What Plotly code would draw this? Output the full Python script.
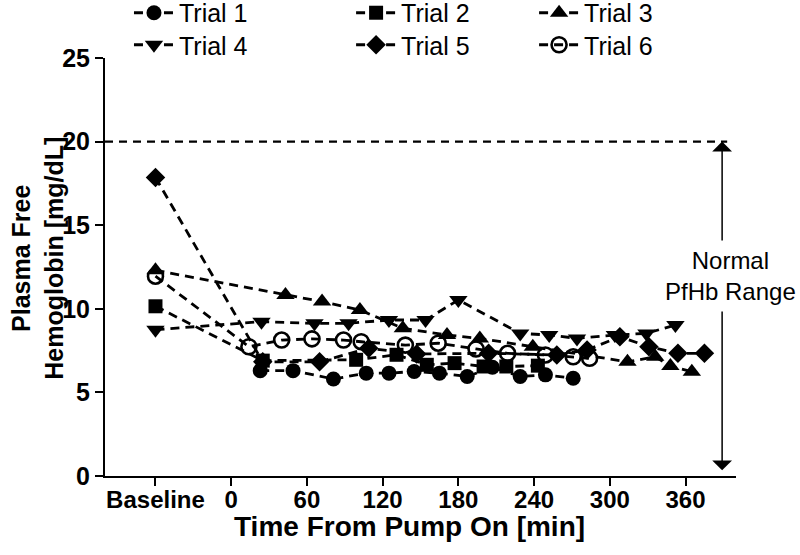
import plotly.graph_objects as go

# ---------------- data ----------------
BASELINE = -60  # x position used for the "Baseline" category

t1_x = [23, 49, 81, 107, 125, 145, 165, 187, 207, 229, 249, 271]
t1_y = [6.3, 6.3, 5.8, 6.15, 6.15, 6.25, 6.15, 5.95, 6.5, 5.95, 6.05, 5.85]

t2_x = [BASELINE, 25, 99, 131, 155, 177, 200, 218, 243]
t2_y = [10.15, 6.9, 6.95, 7.25, 6.65, 6.75, 6.55, 6.55, 6.6]

t3_x = [BASELINE, 43, 72, 102, 136, 171, 197, 239, 314, 336, 348, 365]
t3_y = [12.3, 10.83, 10.43, 9.93, 8.83, 8.43, 8.23, 7.73, 6.83, 7.13, 6.58, 6.24]

t4_x = [BASELINE, 24, 66, 93, 125, 154, 180, 229, 252, 274, 304, 329, 352]
t4_y = [8.75, 9.23, 9.13, 9.13, 9.33, 9.33, 10.53, 8.53, 8.43, 8.23, 8.43, 8.53, 9.03]

t5_x = [BASELINE, 25, 70, 109, 147, 204, 258, 282, 308, 331, 354, 375]
t5_y = [17.85, 6.83, 6.83, 7.64, 7.3, 7.34, 7.24, 7.54, 8.33, 7.73, 7.34, 7.34]

t6_x = [BASELINE, 14, 40, 64, 89, 103, 138, 164, 194, 219, 249, 271, 284]
t6_y = [11.95, 7.73, 8.13, 8.2, 8.13, 8.03, 7.83, 7.94, 7.6, 7.34, 7.24, 7.13, 7.04]

series_names = ["Trial 1", "Trial 2", "Trial 3", "Trial 4", "Trial 5", "Trial 6"]

x_tick_vals = [BASELINE, 0, 60, 120, 180, 240, 300, 360]
x_tick_text = ["Baseline", "0", "60", "120", "180", "240", "300", "360"]
y_tick_vals = [0, 5, 10, 15, 20, 25]

normal_upper = 20
normal_lower = 0
range_marker_x = 389
range_label_x = 395.5
range_label_y = 11.95
x_range = [-100, 400]
y_range = [0, 25]

# ---------------- figure ----------------
FONT = "Liberation Sans, Arial, sans-serif"
symbols = ["circle", "square", "triangle-up", "triangle-down", "diamond", "circle-open"]
sizes = [15, 14, 16, 16, 15, 15]
legend_ids = ["legend", "legend2", "legend3", "legend4", "legend5", "legend6"]
xs = [t1_x, t2_x, t3_x, t4_x, t5_x, t6_x]
ys = [t1_y, t2_y, t3_y, t4_y, t5_y, t6_y]

fig = go.Figure()

# reference dashed line at upper normal limit
fig.add_trace(go.Scatter(
    x=[x_range[0], range_marker_x + 4], y=[normal_upper, normal_upper],
    mode="lines", line=dict(color="black", width=2.2, dash="8px,6px"),
    showlegend=False, hoverinfo="skip", cliponaxis=False))

for name, x, y, sym, sz, lg in zip(series_names, xs, ys, symbols, sizes, legend_ids):
    fig.add_trace(go.Scatter(
        x=x, y=y, name=name, mode="lines+markers", legend=lg,
        line=dict(color="black", width=2.8, dash="9px,6px"),
        marker=dict(symbol=sym, size=sz, color="black",
                    line=dict(color="black", width=2.6 if sym.endswith("open") else 0)),
        cliponaxis=False))

fig.add_annotation(
    x=range_marker_x, y=normal_upper, ax=range_marker_x, ay=normal_lower + 0.25,
    xref="x", yref="y", axref="x", ayref="y",
    text="", showarrow=True, arrowhead=1, arrowside="end+start",
    arrowsize=2.2, arrowwidth=1.5, arrowcolor="black")

fig.add_annotation(
    x=range_label_x, y=range_label_y, xref="x", yref="y",
    xanchor="center", yanchor="middle",
    text="Normal<br>PfHb Range", showarrow=False,
    font=dict(family=FONT, size=24, color="black"),
    bgcolor="white", borderpad=6, align="center")

# axis titles
fig.add_annotation(
    x=0.482, y=-0.12, xref="paper", yref="paper", showarrow=False,
    xanchor="center", yanchor="middle",
    text="Time From Pump On [min]",
    font=dict(family=FONT, size=28, weight="bold", color="black"))
fig.add_annotation(
    x=-0.106, y=0.52, xref="paper", yref="paper", showarrow=False, textangle=-90,
    xanchor="center", yanchor="middle",
    text="Plasma Free<br>Hemoglobin [mg/dL]",
    font=dict(family=FONT, size=25, weight="bold", color="black"))

legend_common = dict(orientation="v", yref="paper", yanchor="middle",
                     xanchor="left", font=dict(family=FONT, size=25, color="black"),
                     bgcolor="rgba(0,0,0,0)", itemwidth=40, tracegroupgap=0)
row_y = [1.1077, 1.0311]
col_x = [0.038, 0.390, 0.680]

fig.update_layout(
    width=800, height=555,
    margin=dict(l=105, r=64, t=58, b=79, autoexpand=False),
    paper_bgcolor="white", plot_bgcolor="white",
    font=dict(family=FONT, color="black"),
    showlegend=True,
    legend=dict(x=col_x[0], y=row_y[0], **legend_common),
    legend2=dict(x=col_x[1], y=row_y[0], **legend_common),
    legend3=dict(x=col_x[2], y=row_y[0], **legend_common),
    legend4=dict(x=col_x[0], y=row_y[1], **legend_common),
    legend5=dict(x=col_x[1], y=row_y[1], **legend_common),
    legend6=dict(x=col_x[2], y=row_y[1], **legend_common),
    xaxis=dict(range=x_range, tickvals=x_tick_vals, ticktext=x_tick_text,
               showline=True, linecolor="black", linewidth=2,
               ticks="outside", ticklen=8, tickwidth=2, tickcolor="black",
               showgrid=False, zeroline=False, automargin=False,
               ticklabelstandoff=-7,
               tickfont=dict(family=FONT, size=24, weight="bold")),
    yaxis=dict(range=y_range, tickvals=y_tick_vals,
               showline=True, linecolor="black", linewidth=2,
               ticks="outside", ticklen=8, tickwidth=2, tickcolor="black",
               showgrid=False, zeroline=False, automargin=False,
               tickfont=dict(family=FONT, size=25, weight="bold")),
)

fig.write_html("out.html", config={"displayModeBar": False},
               post_script="document.body.style.margin='0';")
